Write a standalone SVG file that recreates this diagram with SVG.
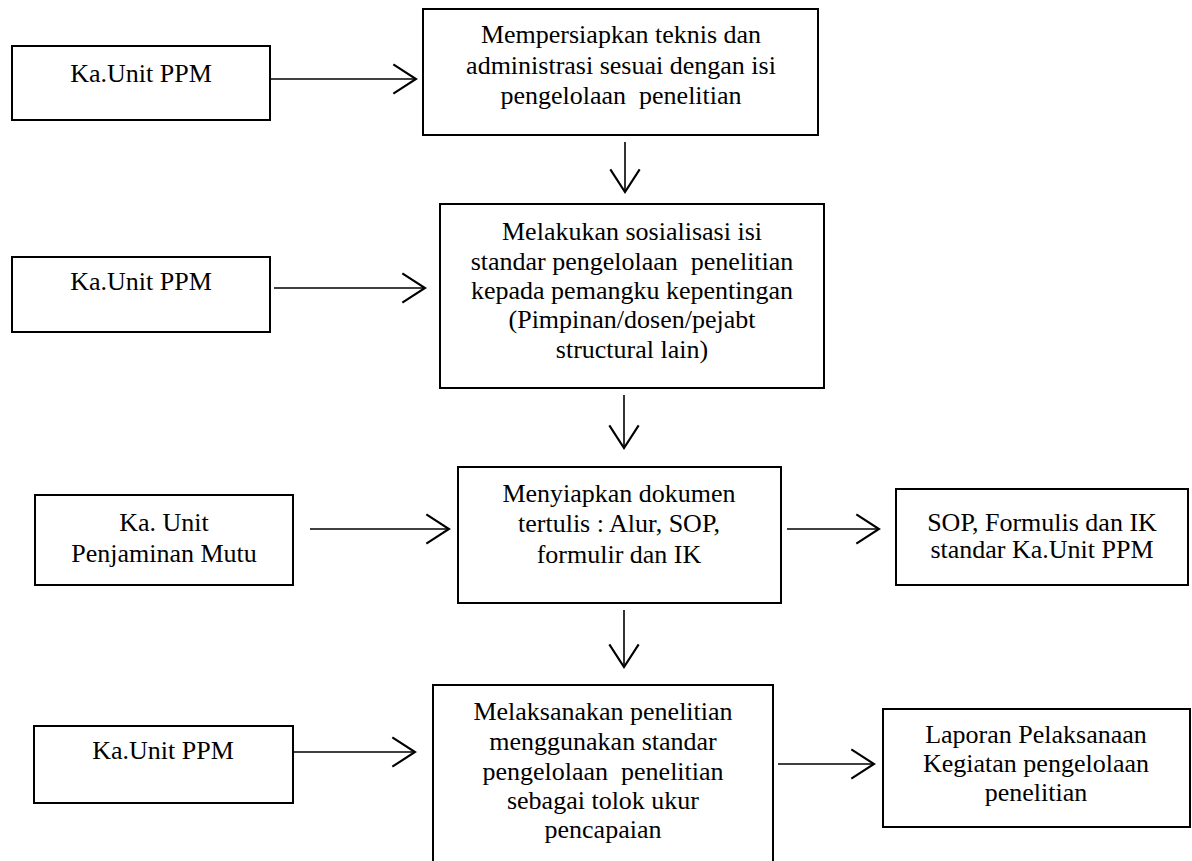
<svg xmlns="http://www.w3.org/2000/svg" width="1192" height="861" viewBox="0 0 1192 861">
<style>
.box{fill:#fff;stroke:#000;stroke-width:2}
.t{font-family:"Liberation Serif","Times New Roman",serif;font-size:26px;fill:#000;text-anchor:middle;white-space:pre}
.c{stroke:#000;stroke-width:1.6;fill:none}
</style>
<defs>
<marker id="ah" markerUnits="userSpaceOnUse" markerWidth="40" markerHeight="40" viewBox="-20 -15 22 30" refX="0" refY="0" orient="auto">
<path d="M-17,-11 L0,0 L-17,11" fill="none" stroke="#000" stroke-width="1.6"/>
</marker>
</defs>
<rect width="1192" height="861" fill="#fff"/>
<g id="connectors">
<line class="c" x1="270" y1="79" x2="416" y2="79" marker-end="url(#ah)"/>
<line class="c" x1="274" y1="288" x2="425" y2="288" marker-end="url(#ah)"/>
<line class="c" x1="310" y1="529" x2="449" y2="529" marker-end="url(#ah)"/>
<line class="c" x1="294" y1="752" x2="415" y2="752" marker-end="url(#ah)"/>
<line class="c" x1="787" y1="529" x2="879" y2="529" marker-end="url(#ah)"/>
<line class="c" x1="778" y1="764" x2="874" y2="764" marker-end="url(#ah)"/>
<line class="c" x1="625" y1="142" x2="625" y2="192" marker-end="url(#ah)"/>
<line class="c" x1="624" y1="395" x2="624" y2="448" marker-end="url(#ah)"/>
<line class="c" x1="624" y1="610" x2="624" y2="667" marker-end="url(#ah)"/>
</g>
<g id="a1">
<rect class="box" x="12" y="46" width="258" height="74"/>
<text class="t" x="141" y="82">Ka.Unit PPM</text>
</g>
<g id="b1">
<rect class="box" x="423" y="9" width="395" height="126"/>
<text class="t" x="621" y="43">Mempersiapkan teknis dan</text>
<text class="t" x="621" y="74">administrasi sesuai dengan isi</text>
<text class="t" x="621" y="104">pengelolaan  penelitian</text>
</g>
<g id="a2">
<rect class="box" x="12" y="257" width="258" height="75"/>
<text class="t" x="141" y="290">Ka.Unit PPM</text>
</g>
<g id="b2">
<rect class="box" x="440" y="204" width="384" height="184"/>
<text class="t" x="632" y="240">Melakukan sosialisasi isi</text>
<text class="t" x="632" y="270">standar pengelolaan  penelitian</text>
<text class="t" x="632" y="299">kepada pemangku kepentingan</text>
<text class="t" x="632" y="328">(Pimpinan/dosen/pejabt</text>
<text class="t" x="632" y="358">structural lain)</text>
</g>
<g id="a3">
<rect class="box" x="35" y="495" width="258" height="90"/>
<text class="t" x="164" y="531">Ka. Unit</text>
<text class="t" x="164" y="562">Penjaminan Mutu</text>
</g>
<g id="b3">
<rect class="box" x="458" y="467" width="323" height="136"/>
<text class="t" x="619" y="502">Menyiapkan dokumen</text>
<text class="t" x="619" y="532">tertulis : Alur, SOP,</text>
<text class="t" x="619" y="563">formulir dan IK</text>
</g>
<g id="c3">
<rect class="box" x="896" y="489" width="292" height="96"/>
<text class="t" x="1042" y="531">SOP, Formulis dan IK</text>
<text class="t" x="1042" y="558">standar Ka.Unit PPM</text>
</g>
<g id="a4">
<rect class="box" x="34" y="726" width="259" height="77"/>
<text class="t" x="163" y="759">Ka.Unit PPM</text>
</g>
<g id="b4">
<rect class="box" x="433" y="685" width="340" height="190"/>
<text class="t" x="603" y="720">Melaksanakan penelitian</text>
<text class="t" x="603" y="750">menggunakan standar</text>
<text class="t" x="603" y="780">pengelolaan  penelitian</text>
<text class="t" x="603" y="809">sebagai tolok ukur</text>
<text class="t" x="603" y="838">pencapaian</text>
</g>
<g id="c4">
<rect class="box" x="883" y="709" width="307" height="118"/>
<text class="t" x="1036" y="743">Laporan Pelaksanaan</text>
<text class="t" x="1036" y="772">Kegiatan pengelolaan</text>
<text class="t" x="1036" y="801">penelitian</text>
</g>
</svg>
